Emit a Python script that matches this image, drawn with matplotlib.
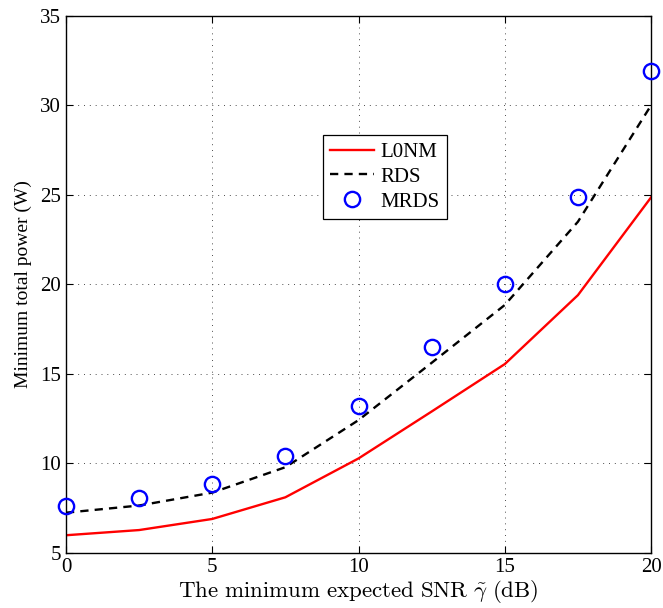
import matplotlib
matplotlib.use("Agg")
import matplotlib.pyplot as plt

# minimum expected SNR (dB)
snr_db = [0, 2.5, 5, 7.5, 10, 12.5, 15, 17.5, 20]

# minimum total power (W) for each scheme
power_l0nm = [5.99, 6.28, 6.90, 8.11, 10.28, 12.90, 15.55, 19.40, 24.86]
power_rds = [7.25, 7.65, 8.37, 9.79, 12.42, 15.62, 18.85, 23.50, 30.00]
power_mrds = [7.64, 8.06, 8.85, 10.40, 13.20, 16.50, 20.00, 24.90, 31.90]

plt.rcParams['font.family'] = ['Liberation Serif', 'DejaVu Serif']
plt.rcParams['mathtext.fontset'] = 'cm'

fig = plt.figure(figsize=(6.63, 6.08), dpi=100)
ax = fig.add_axes([0.0995, 0.0905, 0.8825, 0.8835])

ax.plot(snr_db, power_l0nm, color='red', linewidth=1.7, label='L0NM')
ax.plot(snr_db, power_rds, color='black', linestyle=(0, (3.5, 2.6)), linewidth=1.7, label='RDS')
ax.plot(snr_db, power_mrds, linestyle='none', marker='o', markersize=11,
        markerfacecolor='none', markeredgecolor='blue', markeredgewidth=1.7,
        label='MRDS', clip_on=False, zorder=5)

ax.set_xlim(0, 20)
ax.set_ylim(5, 35)
ax.set_xticks([0, 5, 10, 15, 20])
ax.set_yticks([5, 10, 15, 20, 25, 30, 35])
ax.tick_params(direction='in', top=True, right=True, labelsize=15, length=5, width=0.8)
ax.grid(True, linestyle=(0, (1, 5)), color='0.3', linewidth=0.7)
for sp in ax.spines.values():
    sp.set_linewidth(1.0)

ax.set_xlabel(r'$\mathrm{The\ minimum\ expected\ SNR}\ \tilde{\gamma}\ \mathrm{(dB)}$',
              fontsize=16.5, labelpad=1)
ax.set_ylabel('Minimum total power (W)', fontsize=14, labelpad=6)

leg = ax.legend(loc='upper left', bbox_to_anchor=(0.439, 0.778), fontsize=15,
                fancybox=False, framealpha=1, edgecolor='black', handlelength=2.1,
                handletextpad=0.3, borderpad=0.35, labelspacing=0.25, borderaxespad=0)
leg.get_frame().set_linewidth(0.9)

fig.savefig('out.png', dpi=100)
